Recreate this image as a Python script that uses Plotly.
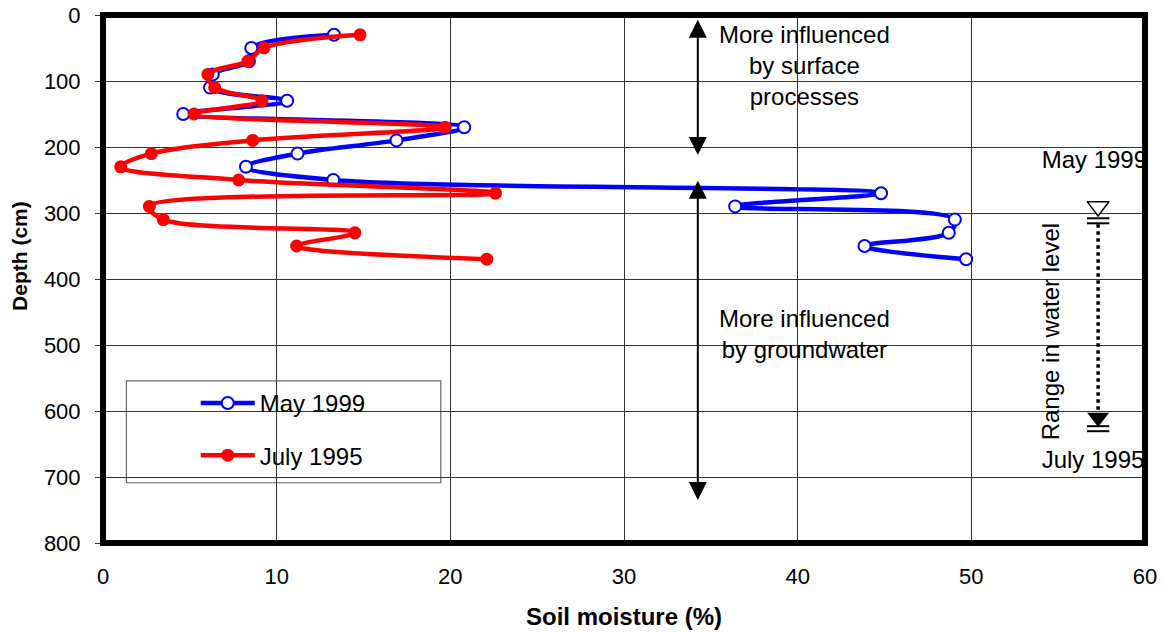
import plotly.graph_objects as go

# Soil moisture profiles
depth_cm = [30, 50, 70, 90, 110, 130, 150, 170, 190, 210, 230, 250, 270, 290, 310, 330, 350, 370]
may_1999 = [13.3, 8.54, 8.4, 6.32, 6.16, 10.6, 4.62, 20.8, 16.9, 11.2, 8.23, 13.26,
            44.8, 36.4, 49.05, 48.7, 43.85, 49.7]
july_1995 = [14.8, 9.27, 8.35, 6.04, 6.43, 9.15, 5.24, 19.7, 8.62, 2.78, 1.02, 7.81,
             22.6, 2.67, 3.47, 14.5, 11.15, 22.1]

# Range in water level marker
wl_x = 57.3
wl_may = 290      # open triangle
wl_july = 610     # filled triangle
wl_dotted = [317, 599]
wl_bars = [308, 315.6, 623, 630.6]

# Zone arrows (x, depth from, depth to)
arrow_x = 34.25
surface_zone = [5, 212]
ground_zone = [249, 735]

FONT = "Liberation Sans, Arial, sans-serif"
BLUE = "#0000FF"
RED = "#FF0000"

fig = go.Figure()

fig.add_trace(go.Scatter(
    x=may_1999, y=depth_cm, name="May 1999", mode="lines+markers",
    line=dict(color=BLUE, width=4.5, shape="spline", smoothing=1),
    marker=dict(symbol="circle", size=12, color="white", line=dict(color=BLUE, width=2)),
    legendgroup="a",
))
fig.add_trace(go.Scatter(
    x=july_1995, y=depth_cm, name="July 1995", mode="lines+markers",
    line=dict(color=RED, width=4.5, shape="spline", smoothing=1),
    marker=dict(symbol="circle", size=13, color=RED),
    legendgroup="b",
))

# water level range
fig.add_trace(go.Scatter(
    x=[wl_x, wl_x], y=wl_dotted, mode="lines",
    line=dict(color="black", width=3.5, dash="dot"), showlegend=False, hoverinfo="skip",
))
fig.add_trace(go.Scatter(
    x=[wl_x] * len(wl_bars), y=wl_bars, mode="markers",
    marker=dict(symbol="line-ew", size=16, line=dict(color="black", width=2)),
    showlegend=False, hoverinfo="skip",
))
fig.add_trace(go.Scatter(
    x=[wl_x], y=[wl_may], mode="markers",
    marker=dict(symbol="triangle-down", size=19, color="white", line=dict(color="black", width=1.5)),
    showlegend=False, hoverinfo="skip",
))
fig.add_trace(go.Scatter(
    x=[wl_x], y=[wl_july], mode="markers",
    marker=dict(symbol="triangle-down", size=19, color="black"),
    showlegend=False, hoverinfo="skip",
))
fig.add_trace(go.Scatter(
    x=[54.05, 54.05], y=[222, 678], mode="text", text=["May 1999", "July 1995"],
    textposition="middle right", textfont=dict(size=24, color="black", family=FONT),
    showlegend=False, hoverinfo="skip",
))

annotations = []
for z in (surface_zone, ground_zone):
    annotations.append(dict(
        x=arrow_x, y=z[1], ax=arrow_x, ay=z[0], xref="x", yref="y", axref="x", ayref="y",
        text="", showarrow=True, arrowside="end+start", arrowhead=2, startarrowhead=2,
        arrowsize=1.8, startarrowsize=1.8, arrowwidth=2, arrowcolor="black",
        standoff=0, startstandoff=0,
    ))
annotations += [
    dict(x=40.4, y=76, xref="x", yref="y", showarrow=False,
         text="More influenced<br>by surface<br>processes", align="center",
         font=dict(size=24, color="black", family=FONT)),
    dict(x=40.4, y=484, xref="x", yref="y", showarrow=False,
         text="More influenced<br>by groundwater", align="center",
         font=dict(size=24, color="black", family=FONT)),
    dict(x=54.56, y=480, xref="x", yref="y", showarrow=False, textangle=-90,
         text="Range in water level", font=dict(size=24, color="black", family=FONT)),
    dict(x=-0.093, y=0.543, xref="paper", yref="paper", showarrow=False, textangle=-90,
         text="<b>Depth (cm)</b>", font=dict(size=21, color="black", family=FONT)),
    dict(x=0.5, y=-0.168, xref="paper", yref="paper", showarrow=False,
         text="<b>Soil moisture (%)</b>", font=dict(size=24, color="black", family=FONT)),
]

shapes = [
    # legend box
    dict(type="rect", xref="paper", yref="paper", layer="between",
         x0=(126.7 - 103.3) / 1041.7, x1=(441 - 103.3) / 1041.7,
         y0=1 - (482.7 - 14.7) / 528.3, y1=1 - (380.7 - 14.7) / 528.3,
         line=dict(color="#666666", width=1.2), fillcolor="white"),
    # thick frame
    dict(type="rect", xref="paper", yref="paper", x0=0, x1=1, y0=0, y1=1,
         line=dict(color="black", width=6), layer="above"),
]

fig.update_layout(
    width=1162, height=632,
    margin=dict(l=103, r=17, t=15, b=89, autoexpand=False),
    paper_bgcolor="white", plot_bgcolor="white",
    font=dict(family=FONT, size=22, color="black"),
    showlegend=True,
    legend=dict(x=0.089, y=0.307, xanchor="left", yanchor="top",
                bgcolor="rgba(0,0,0,0)", borderwidth=0,
                font=dict(size=24, family=FONT), itemwidth=54, tracegroupgap=18),
    xaxis=dict(range=[0, 60], dtick=10, showgrid=True, gridcolor="#333333", gridwidth=1,
               zeroline=False, showline=False, ticks="", ticklabelstandoff=18,
               tickfont=dict(size=22), automargin=False, ticklabeloverflow="allow"),
    xaxis2=dict(range=[0, 60], dtick=10, overlaying="x", side="top", showgrid=False,
                zeroline=False, showline=False, ticks="outside", ticklen=7,
                tickcolor="#333333", showticklabels=False, automargin=False),
    yaxis=dict(range=[800, 0], dtick=100, showgrid=True, gridcolor="#333333", gridwidth=1,
               zeroline=False, showline=False, ticks="outside", ticklen=7,
               tickcolor="#333333", ticklabelstandoff=10, tickfont=dict(size=22),
               automargin=False, ticklabeloverflow="allow"),
    annotations=annotations,
    shapes=shapes,
)

# drop the default 8px page margin so the figure fills the window
fig.write_html("out.html", config={"displayModeBar": False},
               post_script="document.body.style.margin = '0';")
